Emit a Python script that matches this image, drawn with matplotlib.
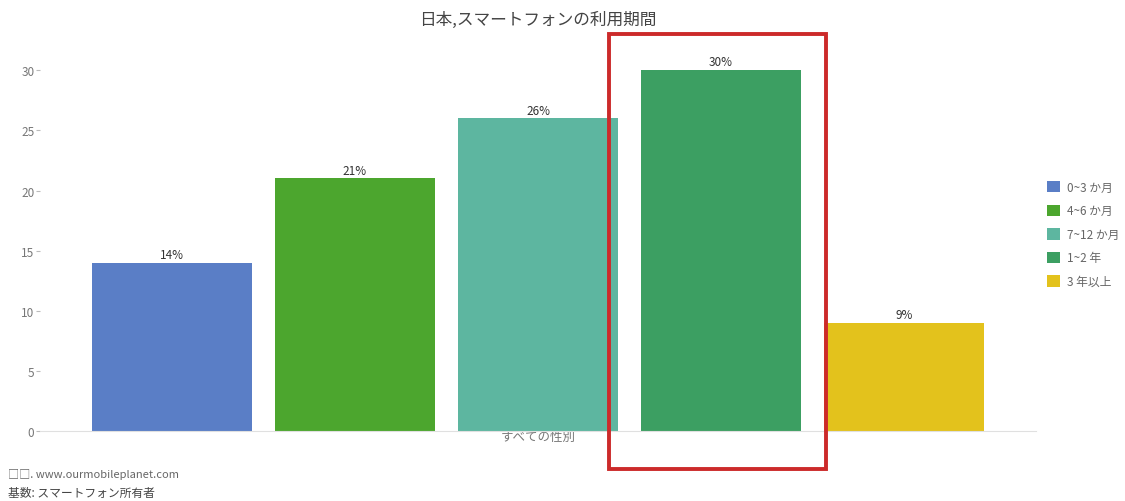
import numpy as np
import matplotlib
matplotlib.use("Agg")
import matplotlib.pyplot as plt
from matplotlib.patches import Rectangle, Patch

plt.rcParams['font.family'] = ['Noto Sans CJK JP', 'DejaVu Sans']

title = "日本,スマートフォンの利用期間"
group_label = "すべての性別"
periods = ["0~3 か月", "4~6 か月", "7~12 か月", "1~2 年", "3 年以上"]
shares = [14, 21, 26, 30, 9]
colors = ["#5A7EC6", "#4CA62E", "#5DB6A0", "#3C9F62", "#E3C21C"]
yticks = [0, 5, 10, 15, 20, 25, 30]
source_note = "□□. www.ourmobileplanet.com"
base_note = "基数: スマートフォン所有者"

W, H = 1125, 502
fig = plt.figure(figsize=(W / 100, H / 100), dpi=100)
ax = fig.add_axes([40 / W, 1 - 432 / H, (1036 - 40) / W, (432 - 40) / H])

pos = np.arange(len(shares))
bars = ax.bar(pos, shares, width=0.875, color=colors, edgecolor='none')
for b, v in zip(bars, shares):
    ax.text(b.get_x() + b.get_width() / 2, v + 0.15, f"{v}%",
            ha='center', va='bottom', fontsize=8.5, color='#333333')

ax.set_xlim(-0.72, 4.72)
ax.set_ylim(0, 32.6)
ax.set_yticks(yticks)
ax.set_xticks([2])
ax.set_xticklabels([group_label])
ax.tick_params(axis='y', colors='#bbbbbb', labelcolor='#777777', labelsize=8.5,
               length=3, pad=1)
ax.tick_params(axis='x', length=0, labelcolor='#777777', labelsize=9, pad=-1)
for s in ['top', 'right', 'left']:
    ax.spines[s].set_visible(False)
ax.spines['bottom'].set_color('#e0e0e0')
ax.spines['bottom'].set_linewidth(0.8)

fig.text(538 / W, 1 - 20 / H, title, ha='center', va='center',
         fontsize=12, color='#444444')

handles = [Patch(facecolor=c, edgecolor='none') for c in colors]
fig.legend(handles, periods, loc='upper left',
           bbox_to_anchor=(1036 / W, 1 - 171 / H), frameon=False,
           fontsize=8.5, labelcolor='#666666', handlelength=1.1,
           handleheight=1.1, handletextpad=0.6, labelspacing=0.9)

fig.text(8 / W, 1 - 475 / H, source_note, ha='left', va='center',
         fontsize=8, color='#666666')
fig.text(8 / W, 1 - 493 / H, base_note, ha='left', va='center',
         fontsize=8.5, color='#444444')

fig.patches.append(Rectangle((609 / W, 1 - 470 / H), (826 - 609) / W,
                             (470 - 35) / H, transform=fig.transFigure,
                             fill=False, edgecolor='#CC2A2A', linewidth=2.8))

fig.savefig("out.png", dpi=100)
